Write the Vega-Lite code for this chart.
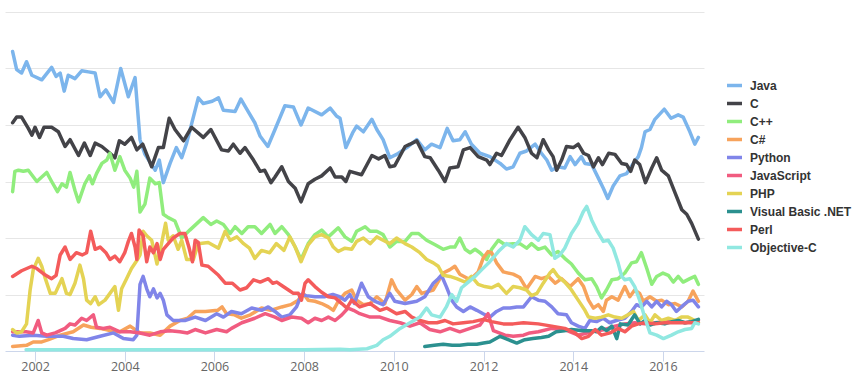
{
"$schema": "https://vega.github.io/schema/vega-lite/v6.json",
"width": 699, "height": 339,
"autosize": {"type": "none"},
"padding": {"left": 5, "top": 12, "right": 150, "bottom": 38},
"background": "#ffffff",
"config": {"view": {"stroke": null}},
"data": {"values": [
{"lang":"Java","year":2001.50,"share":26.5},{"lang":"Java","year":2001.59,"share":24.9},{"lang":"Java","year":2001.70,"share":24.6},{"lang":"Java","year":2001.81,"share":25.6},{"lang":"Java","year":2001.93,"share":24.4},{"lang":"Java","year":2002.15,"share":24.0},{"lang":"Java","year":2002.37,"share":25.1},{"lang":"Java","year":2002.47,"share":24.3},{"lang":"Java","year":2002.56,"share":24.6},{"lang":"Java","year":2002.65,"share":23.0},{"lang":"Java","year":2002.74,"share":24.4},{"lang":"Java","year":2002.89,"share":24.1},{"lang":"Java","year":2003.04,"share":24.8},{"lang":"Java","year":2003.19,"share":24.7},{"lang":"Java","year":2003.34,"share":24.6},{"lang":"Java","year":2003.45,"share":22.5},{"lang":"Java","year":2003.58,"share":23.1},{"lang":"Java","year":2003.75,"share":22.0},{"lang":"Java","year":2003.91,"share":25.0},{"lang":"Java","year":2004.08,"share":22.5},{"lang":"Java","year":2004.23,"share":24.2},{"lang":"Java","year":2004.34,"share":18.7},{"lang":"Java","year":2004.45,"share":17.4},{"lang":"Java","year":2004.68,"share":16.0},{"lang":"Java","year":2004.77,"share":16.9},{"lang":"Java","year":2004.86,"share":14.9},{"lang":"Java","year":2005.01,"share":16.6},{"lang":"Java","year":2005.15,"share":18.0},{"lang":"Java","year":2005.27,"share":17.1},{"lang":"Java","year":2005.38,"share":18.4},{"lang":"Java","year":2005.64,"share":22.4},{"lang":"Java","year":2005.75,"share":21.9},{"lang":"Java","year":2005.95,"share":22.1},{"lang":"Java","year":2006.09,"share":22.4},{"lang":"Java","year":2006.20,"share":21.3},{"lang":"Java","year":2006.46,"share":21.2},{"lang":"Java","year":2006.59,"share":22.3},{"lang":"Java","year":2006.72,"share":21.4},{"lang":"Java","year":2006.90,"share":20.2},{"lang":"Java","year":2007.02,"share":19.0},{"lang":"Java","year":2007.19,"share":18.1},{"lang":"Java","year":2007.35,"share":19.6},{"lang":"Java","year":2007.57,"share":21.7},{"lang":"Java","year":2007.76,"share":21.6},{"lang":"Java","year":2007.93,"share":20.0},{"lang":"Java","year":2008.09,"share":21.5},{"lang":"Java","year":2008.39,"share":20.9},{"lang":"Java","year":2008.58,"share":21.5},{"lang":"Java","year":2008.72,"share":20.8},{"lang":"Java","year":2008.80,"share":20.6},{"lang":"Java","year":2008.93,"share":18.0},{"lang":"Java","year":2009.08,"share":19.3},{"lang":"Java","year":2009.17,"share":19.9},{"lang":"Java","year":2009.32,"share":19.4},{"lang":"Java","year":2009.51,"share":20.5},{"lang":"Java","year":2009.62,"share":19.6},{"lang":"Java","year":2009.76,"share":18.7},{"lang":"Java","year":2009.91,"share":17.1},{"lang":"Java","year":2010.06,"share":17.4},{"lang":"Java","year":2010.29,"share":18.0},{"lang":"Java","year":2010.51,"share":18.7},{"lang":"Java","year":2010.69,"share":17.8},{"lang":"Java","year":2010.84,"share":18.3},{"lang":"Java","year":2011.03,"share":18.0},{"lang":"Java","year":2011.19,"share":19.7},{"lang":"Java","year":2011.32,"share":18.6},{"lang":"Java","year":2011.47,"share":18.7},{"lang":"Java","year":2011.59,"share":19.4},{"lang":"Java","year":2011.73,"share":18.3},{"lang":"Java","year":2011.92,"share":17.5},{"lang":"Java","year":2012.14,"share":17.2},{"lang":"Java","year":2012.37,"share":16.6},{"lang":"Java","year":2012.51,"share":16.1},{"lang":"Java","year":2012.66,"share":16.3},{"lang":"Java","year":2012.81,"share":17.5},{"lang":"Java","year":2012.96,"share":17.7},{"lang":"Java","year":2013.15,"share":18.3},{"lang":"Java","year":2013.29,"share":17.5},{"lang":"Java","year":2013.41,"share":16.9},{"lang":"Java","year":2013.52,"share":16.0},{"lang":"Java","year":2013.66,"share":16.3},{"lang":"Java","year":2013.81,"share":16.2},{"lang":"Java","year":2013.93,"share":17.2},{"lang":"Java","year":2014.04,"share":16.5},{"lang":"Java","year":2014.18,"share":17.2},{"lang":"Java","year":2014.26,"share":16.6},{"lang":"Java","year":2014.41,"share":16.5},{"lang":"Java","year":2014.56,"share":15.3},{"lang":"Java","year":2014.67,"share":14.4},{"lang":"Java","year":2014.77,"share":13.5},{"lang":"Java","year":2014.89,"share":14.6},{"lang":"Java","year":2015.04,"share":15.5},{"lang":"Java","year":2015.19,"share":15.7},{"lang":"Java","year":2015.34,"share":16.6},{"lang":"Java","year":2015.45,"share":17.2},{"lang":"Java","year":2015.52,"share":18.0},{"lang":"Java","year":2015.60,"share":19.4},{"lang":"Java","year":2015.71,"share":19.6},{"lang":"Java","year":2015.82,"share":20.5},{"lang":"Java","year":2016.03,"share":21.4},{"lang":"Java","year":2016.18,"share":20.6},{"lang":"Java","year":2016.34,"share":20.9},{"lang":"Java","year":2016.45,"share":20.7},{"lang":"Java","year":2016.60,"share":19.4},{"lang":"Java","year":2016.71,"share":18.3},{"lang":"Java","year":2016.79,"share":18.9},
{"lang":"C","year":2001.50,"share":20.2},{"lang":"C","year":2001.59,"share":20.7},{"lang":"C","year":2001.70,"share":20.7},{"lang":"C","year":2001.85,"share":19.7},{"lang":"C","year":2001.93,"share":19.1},{"lang":"C","year":2002.00,"share":19.8},{"lang":"C","year":2002.10,"share":18.9},{"lang":"C","year":2002.20,"share":19.8},{"lang":"C","year":2002.37,"share":19.8},{"lang":"C","year":2002.52,"share":19.4},{"lang":"C","year":2002.67,"share":18.1},{"lang":"C","year":2002.78,"share":18.7},{"lang":"C","year":2002.97,"share":17.3},{"lang":"C","year":2003.10,"share":18.4},{"lang":"C","year":2003.23,"share":17.3},{"lang":"C","year":2003.34,"share":18.4},{"lang":"C","year":2003.49,"share":18.1},{"lang":"C","year":2003.67,"share":17.5},{"lang":"C","year":2003.78,"share":17.1},{"lang":"C","year":2003.88,"share":18.6},{"lang":"C","year":2004.00,"share":18.3},{"lang":"C","year":2004.15,"share":18.9},{"lang":"C","year":2004.27,"share":17.8},{"lang":"C","year":2004.40,"share":18.3},{"lang":"C","year":2004.60,"share":16.3},{"lang":"C","year":2004.75,"share":18.0},{"lang":"C","year":2004.86,"share":18.0},{"lang":"C","year":2004.99,"share":20.6},{"lang":"C","year":2005.12,"share":19.6},{"lang":"C","year":2005.31,"share":18.6},{"lang":"C","year":2005.49,"share":19.8},{"lang":"C","year":2005.75,"share":18.9},{"lang":"C","year":2005.92,"share":19.6},{"lang":"C","year":2006.16,"share":17.8},{"lang":"C","year":2006.31,"share":17.7},{"lang":"C","year":2006.42,"share":18.3},{"lang":"C","year":2006.57,"share":17.5},{"lang":"C","year":2006.68,"share":18.0},{"lang":"C","year":2006.87,"share":16.9},{"lang":"C","year":2007.02,"share":15.9},{"lang":"C","year":2007.12,"share":16.0},{"lang":"C","year":2007.26,"share":14.9},{"lang":"C","year":2007.35,"share":15.4},{"lang":"C","year":2007.50,"share":16.3},{"lang":"C","year":2007.65,"share":15.0},{"lang":"C","year":2007.80,"share":14.4},{"lang":"C","year":2007.93,"share":13.2},{"lang":"C","year":2008.09,"share":14.8},{"lang":"C","year":2008.24,"share":15.2},{"lang":"C","year":2008.39,"share":15.5},{"lang":"C","year":2008.58,"share":16.2},{"lang":"C","year":2008.69,"share":15.4},{"lang":"C","year":2008.84,"share":15.4},{"lang":"C","year":2008.93,"share":15.0},{"lang":"C","year":2009.02,"share":15.9},{"lang":"C","year":2009.28,"share":15.6},{"lang":"C","year":2009.51,"share":17.3},{"lang":"C","year":2009.66,"share":17.0},{"lang":"C","year":2009.80,"share":17.3},{"lang":"C","year":2009.91,"share":16.3},{"lang":"C","year":2010.02,"share":16.4},{"lang":"C","year":2010.25,"share":18.1},{"lang":"C","year":2010.36,"share":18.3},{"lang":"C","year":2010.51,"share":18.6},{"lang":"C","year":2010.69,"share":17.2},{"lang":"C","year":2010.81,"share":17.1},{"lang":"C","year":2010.99,"share":16.0},{"lang":"C","year":2011.14,"share":15.0},{"lang":"C","year":2011.25,"share":16.2},{"lang":"C","year":2011.43,"share":16.3},{"lang":"C","year":2011.55,"share":17.8},{"lang":"C","year":2011.70,"share":18.0},{"lang":"C","year":2011.88,"share":17.2},{"lang":"C","year":2012.07,"share":16.9},{"lang":"C","year":2012.14,"share":16.5},{"lang":"C","year":2012.29,"share":17.5},{"lang":"C","year":2012.40,"share":17.3},{"lang":"C","year":2012.59,"share":18.7},{"lang":"C","year":2012.77,"share":19.8},{"lang":"C","year":2012.92,"share":18.9},{"lang":"C","year":2013.07,"share":17.5},{"lang":"C","year":2013.19,"share":17.1},{"lang":"C","year":2013.33,"share":18.7},{"lang":"C","year":2013.45,"share":17.8},{"lang":"C","year":2013.55,"share":17.2},{"lang":"C","year":2013.63,"share":16.0},{"lang":"C","year":2013.74,"share":16.9},{"lang":"C","year":2013.85,"share":18.1},{"lang":"C","year":2014.00,"share":18.0},{"lang":"C","year":2014.11,"share":18.3},{"lang":"C","year":2014.23,"share":17.5},{"lang":"C","year":2014.34,"share":17.3},{"lang":"C","year":2014.45,"share":16.3},{"lang":"C","year":2014.56,"share":17.1},{"lang":"C","year":2014.65,"share":16.5},{"lang":"C","year":2014.79,"share":17.5},{"lang":"C","year":2014.93,"share":17.4},{"lang":"C","year":2015.08,"share":16.6},{"lang":"C","year":2015.19,"share":16.5},{"lang":"C","year":2015.28,"share":15.9},{"lang":"C","year":2015.37,"share":16.9},{"lang":"C","year":2015.48,"share":16.5},{"lang":"C","year":2015.61,"share":14.9},{"lang":"C","year":2015.75,"share":16.2},{"lang":"C","year":2015.86,"share":17.1},{"lang":"C","year":2015.97,"share":16.0},{"lang":"C","year":2016.12,"share":15.5},{"lang":"C","year":2016.27,"share":14.0},{"lang":"C","year":2016.42,"share":12.5},{"lang":"C","year":2016.53,"share":12.1},{"lang":"C","year":2016.64,"share":11.3},{"lang":"C","year":2016.79,"share":9.9},
{"lang":"C++","year":2001.50,"share":14.1},{"lang":"C++","year":2001.55,"share":15.9},{"lang":"C++","year":2001.63,"share":16.0},{"lang":"C++","year":2001.74,"share":15.9},{"lang":"C++","year":2001.85,"share":16.0},{"lang":"C++","year":2002.04,"share":15.0},{"lang":"C++","year":2002.26,"share":15.8},{"lang":"C++","year":2002.37,"share":15.0},{"lang":"C++","year":2002.50,"share":14.1},{"lang":"C++","year":2002.60,"share":14.8},{"lang":"C++","year":2002.70,"share":14.5},{"lang":"C++","year":2002.78,"share":15.8},{"lang":"C++","year":2002.89,"share":14.2},{"lang":"C++","year":2002.97,"share":13.2},{"lang":"C++","year":2003.11,"share":14.8},{"lang":"C++","year":2003.21,"share":15.5},{"lang":"C++","year":2003.28,"share":14.8},{"lang":"C++","year":2003.37,"share":15.7},{"lang":"C++","year":2003.49,"share":16.6},{"lang":"C++","year":2003.60,"share":16.9},{"lang":"C++","year":2003.67,"share":17.5},{"lang":"C++","year":2003.78,"share":16.0},{"lang":"C++","year":2003.89,"share":17.2},{"lang":"C++","year":2004.00,"share":16.0},{"lang":"C++","year":2004.12,"share":15.3},{"lang":"C++","year":2004.20,"share":14.5},{"lang":"C++","year":2004.27,"share":15.9},{"lang":"C++","year":2004.34,"share":12.3},{"lang":"C++","year":2004.45,"share":13.0},{"lang":"C++","year":2004.56,"share":15.3},{"lang":"C++","year":2004.68,"share":14.8},{"lang":"C++","year":2004.77,"share":14.9},{"lang":"C++","year":2004.86,"share":12.1},{"lang":"C++","year":2004.97,"share":11.8},{"lang":"C++","year":2005.12,"share":11.5},{"lang":"C++","year":2005.27,"share":10.0},{"lang":"C++","year":2005.45,"share":10.7},{"lang":"C++","year":2005.75,"share":11.8},{"lang":"C++","year":2005.92,"share":11.2},{"lang":"C++","year":2006.05,"share":11.5},{"lang":"C++","year":2006.20,"share":11.2},{"lang":"C++","year":2006.35,"share":10.4},{"lang":"C++","year":2006.46,"share":11.0},{"lang":"C++","year":2006.61,"share":10.4},{"lang":"C++","year":2006.75,"share":11.0},{"lang":"C++","year":2006.90,"share":11.0},{"lang":"C++","year":2007.05,"share":10.4},{"lang":"C++","year":2007.24,"share":11.2},{"lang":"C++","year":2007.35,"share":10.4},{"lang":"C++","year":2007.50,"share":11.0},{"lang":"C++","year":2007.65,"share":10.3},{"lang":"C++","year":2007.80,"share":9.2},{"lang":"C++","year":2007.93,"share":8.1},{"lang":"C++","year":2008.09,"share":9.5},{"lang":"C++","year":2008.24,"share":10.3},{"lang":"C++","year":2008.39,"share":10.7},{"lang":"C++","year":2008.54,"share":10.1},{"lang":"C++","year":2008.76,"share":10.9},{"lang":"C++","year":2008.91,"share":10.1},{"lang":"C++","year":2009.06,"share":9.7},{"lang":"C++","year":2009.17,"share":10.6},{"lang":"C++","year":2009.36,"share":11.0},{"lang":"C++","year":2009.47,"share":10.6},{"lang":"C++","year":2009.62,"share":10.6},{"lang":"C++","year":2009.76,"share":10.3},{"lang":"C++","year":2009.91,"share":9.2},{"lang":"C++","year":2010.06,"share":9.7},{"lang":"C++","year":2010.25,"share":9.7},{"lang":"C++","year":2010.40,"share":10.4},{"lang":"C++","year":2010.55,"share":10.4},{"lang":"C++","year":2010.73,"share":9.8},{"lang":"C++","year":2010.92,"share":9.4},{"lang":"C++","year":2011.10,"share":9.0},{"lang":"C++","year":2011.25,"share":9.2},{"lang":"C++","year":2011.36,"share":9.2},{"lang":"C++","year":2011.47,"share":10.0},{"lang":"C++","year":2011.59,"share":9.0},{"lang":"C++","year":2011.70,"share":8.7},{"lang":"C++","year":2011.81,"share":9.0},{"lang":"C++","year":2011.92,"share":8.7},{"lang":"C++","year":2012.07,"share":8.1},{"lang":"C++","year":2012.18,"share":9.0},{"lang":"C++","year":2012.33,"share":9.8},{"lang":"C++","year":2012.48,"share":9.4},{"lang":"C++","year":2012.66,"share":9.5},{"lang":"C++","year":2012.81,"share":9.5},{"lang":"C++","year":2012.96,"share":9.1},{"lang":"C++","year":2013.07,"share":9.5},{"lang":"C++","year":2013.22,"share":9.0},{"lang":"C++","year":2013.37,"share":9.2},{"lang":"C++","year":2013.52,"share":8.5},{"lang":"C++","year":2013.66,"share":8.8},{"lang":"C++","year":2013.81,"share":8.2},{"lang":"C++","year":2013.96,"share":7.7},{"lang":"C++","year":2014.11,"share":6.9},{"lang":"C++","year":2014.26,"share":6.3},{"lang":"C++","year":2014.41,"share":6.4},{"lang":"C++","year":2014.52,"share":5.7},{"lang":"C++","year":2014.63,"share":4.7},{"lang":"C++","year":2014.74,"share":5.4},{"lang":"C++","year":2014.86,"share":6.3},{"lang":"C++","year":2015.00,"share":6.4},{"lang":"C++","year":2015.15,"share":6.9},{"lang":"C++","year":2015.30,"share":7.8},{"lang":"C++","year":2015.41,"share":7.9},{"lang":"C++","year":2015.52,"share":8.7},{"lang":"C++","year":2015.64,"share":7.3},{"lang":"C++","year":2015.75,"share":5.9},{"lang":"C++","year":2015.86,"share":6.6},{"lang":"C++","year":2016.00,"share":6.9},{"lang":"C++","year":2016.12,"share":6.7},{"lang":"C++","year":2016.23,"share":6.1},{"lang":"C++","year":2016.34,"share":6.6},{"lang":"C++","year":2016.45,"share":6.1},{"lang":"C++","year":2016.60,"share":6.4},{"lang":"C++","year":2016.71,"share":6.6},{"lang":"C++","year":2016.79,"share":5.9},
{"lang":"C#","year":2001.50,"share":0.4},{"lang":"C#","year":2001.81,"share":0.5},{"lang":"C#","year":2001.96,"share":0.8},{"lang":"C#","year":2002.15,"share":0.8},{"lang":"C#","year":2002.30,"share":1.0},{"lang":"C#","year":2002.56,"share":1.4},{"lang":"C#","year":2002.85,"share":1.7},{"lang":"C#","year":2003.08,"share":2.3},{"lang":"C#","year":2003.25,"share":2.1},{"lang":"C#","year":2003.45,"share":2.0},{"lang":"C#","year":2003.67,"share":1.8},{"lang":"C#","year":2003.89,"share":1.7},{"lang":"C#","year":2004.12,"share":2.2},{"lang":"C#","year":2004.34,"share":1.6},{"lang":"C#","year":2004.56,"share":1.6},{"lang":"C#","year":2004.79,"share":1.4},{"lang":"C#","year":2005.01,"share":2.2},{"lang":"C#","year":2005.23,"share":2.7},{"lang":"C#","year":2005.40,"share":2.9},{"lang":"C#","year":2005.57,"share":3.5},{"lang":"C#","year":2005.80,"share":3.5},{"lang":"C#","year":2006.07,"share":3.6},{"lang":"C#","year":2006.17,"share":3.9},{"lang":"C#","year":2006.27,"share":3.3},{"lang":"C#","year":2006.45,"share":3.2},{"lang":"C#","year":2006.60,"share":2.9},{"lang":"C#","year":2006.80,"share":3.2},{"lang":"C#","year":2007.05,"share":3.8},{"lang":"C#","year":2007.25,"share":3.6},{"lang":"C#","year":2007.50,"share":3.9},{"lang":"C#","year":2007.70,"share":4.1},{"lang":"C#","year":2007.87,"share":4.5},{"lang":"C#","year":2007.98,"share":5.1},{"lang":"C#","year":2008.09,"share":4.5},{"lang":"C#","year":2008.24,"share":4.4},{"lang":"C#","year":2008.39,"share":4.2},{"lang":"C#","year":2008.54,"share":3.9},{"lang":"C#","year":2008.65,"share":3.6},{"lang":"C#","year":2008.76,"share":4.4},{"lang":"C#","year":2008.91,"share":5.1},{"lang":"C#","year":2009.06,"share":5.4},{"lang":"C#","year":2009.17,"share":4.5},{"lang":"C#","year":2009.32,"share":4.1},{"lang":"C#","year":2009.47,"share":4.2},{"lang":"C#","year":2009.62,"share":4.8},{"lang":"C#","year":2009.80,"share":4.2},{"lang":"C#","year":2009.95,"share":6.3},{"lang":"C#","year":2010.06,"share":5.4},{"lang":"C#","year":2010.25,"share":4.5},{"lang":"C#","year":2010.40,"share":5.0},{"lang":"C#","year":2010.51,"share":5.7},{"lang":"C#","year":2010.62,"share":5.1},{"lang":"C#","year":2010.88,"share":5.4},{"lang":"C#","year":2011.10,"share":6.9},{"lang":"C#","year":2011.25,"share":7.2},{"lang":"C#","year":2011.36,"share":7.5},{"lang":"C#","year":2011.47,"share":6.8},{"lang":"C#","year":2011.70,"share":6.3},{"lang":"C#","year":2011.88,"share":7.0},{"lang":"C#","year":2011.99,"share":8.2},{"lang":"C#","year":2012.10,"share":8.8},{"lang":"C#","year":2012.18,"share":8.7},{"lang":"C#","year":2012.29,"share":7.8},{"lang":"C#","year":2012.44,"share":7.0},{"lang":"C#","year":2012.66,"share":6.8},{"lang":"C#","year":2012.81,"share":6.5},{"lang":"C#","year":2012.96,"share":5.5},{"lang":"C#","year":2013.15,"share":6.6},{"lang":"C#","year":2013.29,"share":6.4},{"lang":"C#","year":2013.45,"share":6.6},{"lang":"C#","year":2013.60,"share":6.0},{"lang":"C#","year":2013.74,"share":6.4},{"lang":"C#","year":2013.93,"share":5.7},{"lang":"C#","year":2014.11,"share":6.4},{"lang":"C#","year":2014.23,"share":5.7},{"lang":"C#","year":2014.34,"share":4.5},{"lang":"C#","year":2014.45,"share":3.8},{"lang":"C#","year":2014.56,"share":4.1},{"lang":"C#","year":2014.67,"share":3.5},{"lang":"C#","year":2014.74,"share":4.5},{"lang":"C#","year":2014.86,"share":4.8},{"lang":"C#","year":2015.00,"share":4.5},{"lang":"C#","year":2015.15,"share":5.7},{"lang":"C#","year":2015.26,"share":4.8},{"lang":"C#","year":2015.37,"share":5.4},{"lang":"C#","year":2015.48,"share":5.1},{"lang":"C#","year":2015.56,"share":4.4},{"lang":"C#","year":2015.71,"share":4.8},{"lang":"C#","year":2015.86,"share":4.4},{"lang":"C#","year":2015.97,"share":4.5},{"lang":"C#","year":2016.12,"share":4.1},{"lang":"C#","year":2016.27,"share":4.2},{"lang":"C#","year":2016.42,"share":3.9},{"lang":"C#","year":2016.56,"share":4.4},{"lang":"C#","year":2016.67,"share":5.3},{"lang":"C#","year":2016.79,"share":4.4},
{"lang":"Python","year":2001.50,"share":1.4},{"lang":"Python","year":2001.65,"share":1.3},{"lang":"Python","year":2001.96,"share":1.4},{"lang":"Python","year":2002.26,"share":1.3},{"lang":"Python","year":2002.63,"share":1.3},{"lang":"Python","year":2002.85,"share":1.1},{"lang":"Python","year":2003.15,"share":1.0},{"lang":"Python","year":2003.45,"share":1.3},{"lang":"Python","year":2003.75,"share":1.6},{"lang":"Python","year":2003.97,"share":1.1},{"lang":"Python","year":2004.19,"share":1.0},{"lang":"Python","year":2004.27,"share":1.4},{"lang":"Python","year":2004.34,"share":5.9},{"lang":"Python","year":2004.41,"share":6.6},{"lang":"Python","year":2004.49,"share":5.5},{"lang":"Python","year":2004.56,"share":4.8},{"lang":"Python","year":2004.64,"share":5.5},{"lang":"Python","year":2004.72,"share":4.7},{"lang":"Python","year":2004.79,"share":5.1},{"lang":"Python","year":2004.86,"share":4.5},{"lang":"Python","year":2004.94,"share":3.2},{"lang":"Python","year":2005.08,"share":2.7},{"lang":"Python","year":2005.23,"share":2.7},{"lang":"Python","year":2005.34,"share":2.7},{"lang":"Python","year":2005.57,"share":3.0},{"lang":"Python","year":2005.80,"share":2.7},{"lang":"Python","year":2006.05,"share":3.3},{"lang":"Python","year":2006.20,"share":3.0},{"lang":"Python","year":2006.38,"share":3.5},{"lang":"Python","year":2006.60,"share":3.3},{"lang":"Python","year":2006.83,"share":3.8},{"lang":"Python","year":2007.05,"share":3.6},{"lang":"Python","year":2007.20,"share":3.9},{"lang":"Python","year":2007.35,"share":3.5},{"lang":"Python","year":2007.50,"share":3.0},{"lang":"Python","year":2007.68,"share":3.2},{"lang":"Python","year":2007.83,"share":3.9},{"lang":"Python","year":2007.94,"share":5.0},{"lang":"Python","year":2008.05,"share":4.9},{"lang":"Python","year":2008.24,"share":4.8},{"lang":"Python","year":2008.45,"share":4.8},{"lang":"Python","year":2008.64,"share":5.0},{"lang":"Python","year":2008.79,"share":4.8},{"lang":"Python","year":2008.91,"share":4.5},{"lang":"Python","year":2009.02,"share":5.0},{"lang":"Python","year":2009.12,"share":4.2},{"lang":"Python","year":2009.28,"share":6.0},{"lang":"Python","year":2009.43,"share":4.8},{"lang":"Python","year":2009.58,"share":4.4},{"lang":"Python","year":2009.76,"share":4.1},{"lang":"Python","year":2009.91,"share":5.1},{"lang":"Python","year":2010.02,"share":4.4},{"lang":"Python","year":2010.25,"share":4.2},{"lang":"Python","year":2010.51,"share":4.4},{"lang":"Python","year":2010.69,"share":4.8},{"lang":"Python","year":2010.88,"share":6.0},{"lang":"Python","year":2010.99,"share":6.4},{"lang":"Python","year":2011.06,"share":6.7},{"lang":"Python","year":2011.17,"share":5.7},{"lang":"Python","year":2011.29,"share":4.5},{"lang":"Python","year":2011.40,"share":3.9},{"lang":"Python","year":2011.55,"share":3.5},{"lang":"Python","year":2011.70,"share":3.9},{"lang":"Python","year":2011.85,"share":3.6},{"lang":"Python","year":2011.99,"share":3.3},{"lang":"Python","year":2012.14,"share":3.0},{"lang":"Python","year":2012.29,"share":3.5},{"lang":"Python","year":2012.44,"share":3.8},{"lang":"Python","year":2012.59,"share":3.8},{"lang":"Python","year":2012.74,"share":3.9},{"lang":"Python","year":2012.89,"share":3.9},{"lang":"Python","year":2013.07,"share":4.8},{"lang":"Python","year":2013.22,"share":4.5},{"lang":"Python","year":2013.37,"share":4.4},{"lang":"Python","year":2013.52,"share":3.9},{"lang":"Python","year":2013.66,"share":3.3},{"lang":"Python","year":2013.85,"share":3.2},{"lang":"Python","year":2013.96,"share":2.5},{"lang":"Python","year":2014.11,"share":2.2},{"lang":"Python","year":2014.26,"share":2.0},{"lang":"Python","year":2014.37,"share":2.7},{"lang":"Python","year":2014.52,"share":2.6},{"lang":"Python","year":2014.67,"share":2.9},{"lang":"Python","year":2014.81,"share":2.5},{"lang":"Python","year":2014.96,"share":2.7},{"lang":"Python","year":2015.15,"share":2.9},{"lang":"Python","year":2015.30,"share":3.5},{"lang":"Python","year":2015.41,"share":4.1},{"lang":"Python","year":2015.52,"share":3.9},{"lang":"Python","year":2015.64,"share":4.4},{"lang":"Python","year":2015.75,"share":3.9},{"lang":"Python","year":2015.86,"share":4.4},{"lang":"Python","year":2015.97,"share":3.9},{"lang":"Python","year":2016.08,"share":4.4},{"lang":"Python","year":2016.19,"share":4.1},{"lang":"Python","year":2016.30,"share":3.5},{"lang":"Python","year":2016.41,"share":3.9},{"lang":"Python","year":2016.56,"share":4.4},{"lang":"Python","year":2016.67,"share":4.5},{"lang":"Python","year":2016.79,"share":3.9},
{"lang":"JavaScript","year":2001.50,"share":1.7},{"lang":"JavaScript","year":2001.80,"share":1.7},{"lang":"JavaScript","year":2001.96,"share":1.6},{"lang":"JavaScript","year":2002.07,"share":2.7},{"lang":"JavaScript","year":2002.15,"share":1.6},{"lang":"JavaScript","year":2002.26,"share":1.4},{"lang":"JavaScript","year":2002.45,"share":1.6},{"lang":"JavaScript","year":2002.67,"share":2.0},{"lang":"JavaScript","year":2002.78,"share":2.4},{"lang":"JavaScript","year":2002.89,"share":2.3},{"lang":"JavaScript","year":2003.04,"share":2.9},{"lang":"JavaScript","year":2003.15,"share":2.7},{"lang":"JavaScript","year":2003.30,"share":3.2},{"lang":"JavaScript","year":2003.37,"share":2.1},{"lang":"JavaScript","year":2003.52,"share":2.0},{"lang":"JavaScript","year":2003.67,"share":2.1},{"lang":"JavaScript","year":2003.89,"share":1.7},{"lang":"JavaScript","year":2004.12,"share":1.7},{"lang":"JavaScript","year":2004.34,"share":1.6},{"lang":"JavaScript","year":2004.56,"share":1.4},{"lang":"JavaScript","year":2004.79,"share":1.7},{"lang":"JavaScript","year":2005.01,"share":1.8},{"lang":"JavaScript","year":2005.23,"share":1.7},{"lang":"JavaScript","year":2005.40,"share":1.6},{"lang":"JavaScript","year":2005.57,"share":1.9},{"lang":"JavaScript","year":2005.80,"share":1.6},{"lang":"JavaScript","year":2006.05,"share":1.9},{"lang":"JavaScript","year":2006.27,"share":1.7},{"lang":"JavaScript","year":2006.38,"share":2.0},{"lang":"JavaScript","year":2006.61,"share":2.5},{"lang":"JavaScript","year":2006.90,"share":2.9},{"lang":"JavaScript","year":2007.13,"share":3.3},{"lang":"JavaScript","year":2007.35,"share":3.0},{"lang":"JavaScript","year":2007.50,"share":2.7},{"lang":"JavaScript","year":2007.72,"share":3.0},{"lang":"JavaScript","year":2007.94,"share":2.9},{"lang":"JavaScript","year":2008.09,"share":2.5},{"lang":"JavaScript","year":2008.24,"share":2.9},{"lang":"JavaScript","year":2008.39,"share":2.7},{"lang":"JavaScript","year":2008.54,"share":3.0},{"lang":"JavaScript","year":2008.69,"share":2.7},{"lang":"JavaScript","year":2008.84,"share":3.2},{"lang":"JavaScript","year":2008.98,"share":3.8},{"lang":"JavaScript","year":2009.10,"share":3.6},{"lang":"JavaScript","year":2009.24,"share":3.3},{"lang":"JavaScript","year":2009.47,"share":3.0},{"lang":"JavaScript","year":2009.69,"share":3.0},{"lang":"JavaScript","year":2009.91,"share":2.7},{"lang":"JavaScript","year":2010.14,"share":2.5},{"lang":"JavaScript","year":2010.36,"share":2.2},{"lang":"JavaScript","year":2010.58,"share":2.5},{"lang":"JavaScript","year":2010.80,"share":1.9},{"lang":"JavaScript","year":2011.03,"share":1.7},{"lang":"JavaScript","year":2011.25,"share":2.0},{"lang":"JavaScript","year":2011.47,"share":1.7},{"lang":"JavaScript","year":2011.70,"share":2.0},{"lang":"JavaScript","year":2011.92,"share":2.3},{"lang":"JavaScript","year":2012.10,"share":3.3},{"lang":"JavaScript","year":2012.22,"share":1.8},{"lang":"JavaScript","year":2012.48,"share":1.4},{"lang":"JavaScript","year":2012.66,"share":1.3},{"lang":"JavaScript","year":2012.89,"share":1.4},{"lang":"JavaScript","year":2013.03,"share":1.6},{"lang":"JavaScript","year":2013.22,"share":1.7},{"lang":"JavaScript","year":2013.52,"share":2.0},{"lang":"JavaScript","year":2013.81,"share":1.9},{"lang":"JavaScript","year":2014.11,"share":1.4},{"lang":"JavaScript","year":2014.41,"share":1.7},{"lang":"JavaScript","year":2014.71,"share":1.9},{"lang":"JavaScript","year":2014.93,"share":2.2},{"lang":"JavaScript","year":2015.15,"share":2.4},{"lang":"JavaScript","year":2015.37,"share":2.5},{"lang":"JavaScript","year":2015.60,"share":2.4},{"lang":"JavaScript","year":2015.82,"share":2.5},{"lang":"JavaScript","year":2016.04,"share":2.6},{"lang":"JavaScript","year":2016.27,"share":2.7},{"lang":"JavaScript","year":2016.49,"share":2.5},{"lang":"JavaScript","year":2016.79,"share":2.7},
{"lang":"PHP","year":2001.50,"share":1.9},{"lang":"PHP","year":2001.59,"share":1.6},{"lang":"PHP","year":2001.70,"share":1.7},{"lang":"PHP","year":2001.81,"share":2.4},{"lang":"PHP","year":2001.89,"share":5.4},{"lang":"PHP","year":2001.96,"share":7.2},{"lang":"PHP","year":2002.07,"share":8.2},{"lang":"PHP","year":2002.15,"share":7.5},{"lang":"PHP","year":2002.23,"share":6.4},{"lang":"PHP","year":2002.34,"share":5.1},{"lang":"PHP","year":2002.45,"share":5.1},{"lang":"PHP","year":2002.52,"share":5.7},{"lang":"PHP","year":2002.60,"share":6.4},{"lang":"PHP","year":2002.70,"share":5.1},{"lang":"PHP","year":2002.78,"share":5.0},{"lang":"PHP","year":2002.89,"share":6.0},{"lang":"PHP","year":2003.00,"share":7.6},{"lang":"PHP","year":2003.08,"share":6.4},{"lang":"PHP","year":2003.15,"share":4.5},{"lang":"PHP","year":2003.24,"share":4.2},{"lang":"PHP","year":2003.34,"share":4.8},{"lang":"PHP","year":2003.42,"share":4.1},{"lang":"PHP","year":2003.56,"share":4.5},{"lang":"PHP","year":2003.67,"share":5.1},{"lang":"PHP","year":2003.78,"share":5.7},{"lang":"PHP","year":2003.86,"share":3.6},{"lang":"PHP","year":2003.93,"share":5.5},{"lang":"PHP","year":2004.04,"share":6.4},{"lang":"PHP","year":2004.15,"share":7.3},{"lang":"PHP","year":2004.27,"share":8.0},{"lang":"PHP","year":2004.34,"share":8.5},{"lang":"PHP","year":2004.41,"share":10.6},{"lang":"PHP","year":2004.49,"share":10.2},{"lang":"PHP","year":2004.60,"share":9.8},{"lang":"PHP","year":2004.68,"share":8.4},{"lang":"PHP","year":2004.72,"share":7.7},{"lang":"PHP","year":2004.82,"share":9.5},{"lang":"PHP","year":2004.91,"share":11.3},{"lang":"PHP","year":2004.97,"share":9.8},{"lang":"PHP","year":2005.08,"share":10.2},{"lang":"PHP","year":2005.19,"share":9.0},{"lang":"PHP","year":2005.27,"share":9.8},{"lang":"PHP","year":2005.38,"share":8.1},{"lang":"PHP","year":2005.53,"share":8.1},{"lang":"PHP","year":2005.64,"share":9.5},{"lang":"PHP","year":2005.86,"share":9.6},{"lang":"PHP","year":2006.09,"share":9.1},{"lang":"PHP","year":2006.24,"share":10.6},{"lang":"PHP","year":2006.35,"share":9.8},{"lang":"PHP","year":2006.50,"share":10.1},{"lang":"PHP","year":2006.65,"share":9.5},{"lang":"PHP","year":2006.78,"share":9.1},{"lang":"PHP","year":2006.90,"share":8.2},{"lang":"PHP","year":2007.05,"share":8.9},{"lang":"PHP","year":2007.23,"share":8.7},{"lang":"PHP","year":2007.38,"share":9.5},{"lang":"PHP","year":2007.55,"share":8.9},{"lang":"PHP","year":2007.68,"share":10.1},{"lang":"PHP","year":2007.80,"share":9.2},{"lang":"PHP","year":2007.93,"share":7.9},{"lang":"PHP","year":2008.09,"share":9.4},{"lang":"PHP","year":2008.24,"share":10.1},{"lang":"PHP","year":2008.39,"share":10.3},{"lang":"PHP","year":2008.54,"share":10.0},{"lang":"PHP","year":2008.65,"share":9.2},{"lang":"PHP","year":2008.76,"share":8.8},{"lang":"PHP","year":2008.91,"share":9.1},{"lang":"PHP","year":2009.06,"share":9.0},{"lang":"PHP","year":2009.17,"share":9.7},{"lang":"PHP","year":2009.32,"share":10.0},{"lang":"PHP","year":2009.47,"share":9.5},{"lang":"PHP","year":2009.62,"share":10.1},{"lang":"PHP","year":2009.76,"share":9.8},{"lang":"PHP","year":2009.91,"share":9.5},{"lang":"PHP","year":2010.06,"share":10.0},{"lang":"PHP","year":2010.25,"share":9.5},{"lang":"PHP","year":2010.40,"share":9.2},{"lang":"PHP","year":2010.58,"share":8.7},{"lang":"PHP","year":2010.73,"share":8.1},{"lang":"PHP","year":2010.88,"share":7.8},{"lang":"PHP","year":2010.99,"share":7.5},{"lang":"PHP","year":2011.10,"share":6.7},{"lang":"PHP","year":2011.25,"share":6.6},{"lang":"PHP","year":2011.40,"share":6.4},{"lang":"PHP","year":2011.59,"share":6.1},{"lang":"PHP","year":2011.73,"share":6.6},{"lang":"PHP","year":2011.88,"share":5.9},{"lang":"PHP","year":2012.03,"share":5.7},{"lang":"PHP","year":2012.18,"share":5.6},{"lang":"PHP","year":2012.33,"share":5.9},{"lang":"PHP","year":2012.51,"share":5.1},{"lang":"PHP","year":2012.66,"share":5.7},{"lang":"PHP","year":2012.81,"share":5.6},{"lang":"PHP","year":2012.96,"share":5.4},{"lang":"PHP","year":2013.07,"share":4.9},{"lang":"PHP","year":2013.19,"share":5.1},{"lang":"PHP","year":2013.33,"share":6.0},{"lang":"PHP","year":2013.48,"share":6.9},{"lang":"PHP","year":2013.55,"share":7.2},{"lang":"PHP","year":2013.66,"share":6.6},{"lang":"PHP","year":2013.81,"share":6.1},{"lang":"PHP","year":2013.96,"share":5.4},{"lang":"PHP","year":2014.11,"share":4.5},{"lang":"PHP","year":2014.26,"share":3.6},{"lang":"PHP","year":2014.34,"share":3.0},{"lang":"PHP","year":2014.49,"share":2.9},{"lang":"PHP","year":2014.63,"share":3.0},{"lang":"PHP","year":2014.78,"share":3.2},{"lang":"PHP","year":2014.93,"share":3.0},{"lang":"PHP","year":2015.08,"share":2.9},{"lang":"PHP","year":2015.22,"share":3.2},{"lang":"PHP","year":2015.34,"share":3.5},{"lang":"PHP","year":2015.45,"share":2.7},{"lang":"PHP","year":2015.60,"share":3.2},{"lang":"PHP","year":2015.71,"share":2.5},{"lang":"PHP","year":2015.82,"share":3.2},{"lang":"PHP","year":2015.97,"share":2.7},{"lang":"PHP","year":2016.12,"share":2.9},{"lang":"PHP","year":2016.27,"share":2.7},{"lang":"PHP","year":2016.41,"share":3.0},{"lang":"PHP","year":2016.56,"share":3.0},{"lang":"PHP","year":2016.71,"share":2.7},{"lang":"PHP","year":2016.79,"share":2.5},
{"lang":"Visual Basic .NET","year":2010.69,"share":0.4},{"lang":"Visual Basic .NET","year":2010.90,"share":0.5},{"lang":"Visual Basic .NET","year":2011.10,"share":0.6},{"lang":"Visual Basic .NET","year":2011.30,"share":0.5},{"lang":"Visual Basic .NET","year":2011.47,"share":0.5},{"lang":"Visual Basic .NET","year":2011.65,"share":0.6},{"lang":"Visual Basic .NET","year":2011.85,"share":0.6},{"lang":"Visual Basic .NET","year":2012.00,"share":0.7},{"lang":"Visual Basic .NET","year":2012.14,"share":0.8},{"lang":"Visual Basic .NET","year":2012.37,"share":1.3},{"lang":"Visual Basic .NET","year":2012.55,"share":1.0},{"lang":"Visual Basic .NET","year":2012.74,"share":0.7},{"lang":"Visual Basic .NET","year":2012.92,"share":1.0},{"lang":"Visual Basic .NET","year":2013.10,"share":1.1},{"lang":"Visual Basic .NET","year":2013.29,"share":1.2},{"lang":"Visual Basic .NET","year":2013.45,"share":1.3},{"lang":"Visual Basic .NET","year":2013.62,"share":1.7},{"lang":"Visual Basic .NET","year":2013.80,"share":1.8},{"lang":"Visual Basic .NET","year":2013.96,"share":1.9},{"lang":"Visual Basic .NET","year":2014.22,"share":1.8},{"lang":"Visual Basic .NET","year":2014.40,"share":1.8},{"lang":"Visual Basic .NET","year":2014.52,"share":1.7},{"lang":"Visual Basic .NET","year":2014.63,"share":2.1},{"lang":"Visual Basic .NET","year":2014.75,"share":1.8},{"lang":"Visual Basic .NET","year":2014.86,"share":2.2},{"lang":"Visual Basic .NET","year":2014.97,"share":1.1},{"lang":"Visual Basic .NET","year":2015.05,"share":2.4},{"lang":"Visual Basic .NET","year":2015.22,"share":2.3},{"lang":"Visual Basic .NET","year":2015.37,"share":3.2},{"lang":"Visual Basic .NET","year":2015.49,"share":2.4},{"lang":"Visual Basic .NET","year":2015.60,"share":2.7},{"lang":"Visual Basic .NET","year":2015.71,"share":2.3},{"lang":"Visual Basic .NET","year":2015.86,"share":2.5},{"lang":"Visual Basic .NET","year":2016.04,"share":2.4},{"lang":"Visual Basic .NET","year":2016.20,"share":2.6},{"lang":"Visual Basic .NET","year":2016.34,"share":2.7},{"lang":"Visual Basic .NET","year":2016.49,"share":2.5},{"lang":"Visual Basic .NET","year":2016.64,"share":2.6},{"lang":"Visual Basic .NET","year":2016.79,"share":2.8},
{"lang":"Perl","year":2001.50,"share":6.6},{"lang":"Perl","year":2001.70,"share":7.1},{"lang":"Perl","year":2001.93,"share":7.5},{"lang":"Perl","year":2002.04,"share":7.3},{"lang":"Perl","year":2002.20,"share":6.8},{"lang":"Perl","year":2002.37,"share":6.4},{"lang":"Perl","year":2002.47,"share":6.7},{"lang":"Perl","year":2002.56,"share":8.5},{"lang":"Perl","year":2002.67,"share":9.2},{"lang":"Perl","year":2002.78,"share":8.1},{"lang":"Perl","year":2002.85,"share":8.4},{"lang":"Perl","year":2002.92,"share":8.7},{"lang":"Perl","year":2003.05,"share":8.5},{"lang":"Perl","year":2003.15,"share":8.7},{"lang":"Perl","year":2003.24,"share":10.6},{"lang":"Perl","year":2003.34,"share":9.0},{"lang":"Perl","year":2003.45,"share":9.2},{"lang":"Perl","year":2003.58,"share":8.7},{"lang":"Perl","year":2003.67,"share":8.1},{"lang":"Perl","year":2003.78,"share":8.4},{"lang":"Perl","year":2003.89,"share":7.9},{"lang":"Perl","year":2004.00,"share":8.7},{"lang":"Perl","year":2004.08,"share":9.7},{"lang":"Perl","year":2004.15,"share":10.4},{"lang":"Perl","year":2004.23,"share":9.2},{"lang":"Perl","year":2004.27,"share":8.1},{"lang":"Perl","year":2004.32,"share":10.7},{"lang":"Perl","year":2004.41,"share":10.2},{"lang":"Perl","year":2004.49,"share":7.9},{"lang":"Perl","year":2004.56,"share":9.2},{"lang":"Perl","year":2004.64,"share":8.7},{"lang":"Perl","year":2004.72,"share":9.5},{"lang":"Perl","year":2004.79,"share":8.1},{"lang":"Perl","year":2004.86,"share":9.0},{"lang":"Perl","year":2004.97,"share":9.5},{"lang":"Perl","year":2005.08,"share":10.0},{"lang":"Perl","year":2005.23,"share":10.4},{"lang":"Perl","year":2005.34,"share":10.4},{"lang":"Perl","year":2005.43,"share":9.2},{"lang":"Perl","year":2005.51,"share":7.9},{"lang":"Perl","year":2005.57,"share":9.8},{"lang":"Perl","year":2005.64,"share":9.6},{"lang":"Perl","year":2005.72,"share":7.6},{"lang":"Perl","year":2005.86,"share":7.5},{"lang":"Perl","year":2006.09,"share":6.7},{"lang":"Perl","year":2006.24,"share":6.0},{"lang":"Perl","year":2006.40,"share":6.0},{"lang":"Perl","year":2006.57,"share":5.4},{"lang":"Perl","year":2006.72,"share":5.6},{"lang":"Perl","year":2006.87,"share":6.3},{"lang":"Perl","year":2007.02,"share":6.1},{"lang":"Perl","year":2007.20,"share":6.4},{"lang":"Perl","year":2007.30,"share":6.0},{"lang":"Perl","year":2007.39,"share":6.1},{"lang":"Perl","year":2007.50,"share":5.8},{"lang":"Perl","year":2007.65,"share":5.4},{"lang":"Perl","year":2007.76,"share":5.1},{"lang":"Perl","year":2007.87,"share":5.1},{"lang":"Perl","year":2007.94,"share":4.5},{"lang":"Perl","year":2008.02,"share":6.0},{"lang":"Perl","year":2008.09,"share":6.3},{"lang":"Perl","year":2008.24,"share":5.7},{"lang":"Perl","year":2008.39,"share":5.2},{"lang":"Perl","year":2008.54,"share":4.8},{"lang":"Perl","year":2008.69,"share":4.7},{"lang":"Perl","year":2008.84,"share":4.2},{"lang":"Perl","year":2008.95,"share":3.8},{"lang":"Perl","year":2009.06,"share":4.5},{"lang":"Perl","year":2009.24,"share":3.9},{"lang":"Perl","year":2009.47,"share":4.2},{"lang":"Perl","year":2009.69,"share":3.6},{"lang":"Perl","year":2009.84,"share":3.8},{"lang":"Perl","year":2010.06,"share":3.3},{"lang":"Perl","year":2010.25,"share":3.5},{"lang":"Perl","year":2010.40,"share":3.0},{"lang":"Perl","year":2010.58,"share":2.7},{"lang":"Perl","year":2010.77,"share":2.5},{"lang":"Perl","year":2010.96,"share":2.5},{"lang":"Perl","year":2011.14,"share":2.7},{"lang":"Perl","year":2011.32,"share":2.4},{"lang":"Perl","year":2011.55,"share":2.5},{"lang":"Perl","year":2011.77,"share":2.6},{"lang":"Perl","year":2011.99,"share":2.8},{"lang":"Perl","year":2012.18,"share":2.6},{"lang":"Perl","year":2012.44,"share":2.4},{"lang":"Perl","year":2012.66,"share":2.4},{"lang":"Perl","year":2012.89,"share":2.5},{"lang":"Perl","year":2013.22,"share":2.4},{"lang":"Perl","year":2013.52,"share":2.2},{"lang":"Perl","year":2013.81,"share":2.0},{"lang":"Perl","year":2014.04,"share":1.6},{"lang":"Perl","year":2014.19,"share":1.1},{"lang":"Perl","year":2014.34,"share":1.3},{"lang":"Perl","year":2014.49,"share":1.9},{"lang":"Perl","year":2014.63,"share":1.4},{"lang":"Perl","year":2014.82,"share":1.6},{"lang":"Perl","year":2015.00,"share":2.0},{"lang":"Perl","year":2015.15,"share":1.7},{"lang":"Perl","year":2015.30,"share":2.2},{"lang":"Perl","year":2015.45,"share":2.4},{"lang":"Perl","year":2015.60,"share":2.5},{"lang":"Perl","year":2015.82,"share":2.4},{"lang":"Perl","year":2016.04,"share":2.5},{"lang":"Perl","year":2016.27,"share":2.5},{"lang":"Perl","year":2016.49,"share":2.5},{"lang":"Perl","year":2016.79,"share":2.5},
{"lang":"Objective-C","year":2001.80,"share":0.1},{"lang":"Objective-C","year":2003.00,"share":0.1},{"lang":"Objective-C","year":2004.00,"share":0.1},{"lang":"Objective-C","year":2005.00,"share":0.1},{"lang":"Objective-C","year":2006.00,"share":0.1},{"lang":"Objective-C","year":2007.00,"share":0.1},{"lang":"Objective-C","year":2008.00,"share":0.1},{"lang":"Objective-C","year":2008.80,"share":0.15},{"lang":"Objective-C","year":2009.02,"share":0.1},{"lang":"Objective-C","year":2009.40,"share":0.2},{"lang":"Objective-C","year":2009.62,"share":0.5},{"lang":"Objective-C","year":2009.76,"share":1.0},{"lang":"Objective-C","year":2009.91,"share":1.3},{"lang":"Objective-C","year":2010.14,"share":2.0},{"lang":"Objective-C","year":2010.36,"share":2.5},{"lang":"Objective-C","year":2010.58,"share":3.0},{"lang":"Objective-C","year":2010.73,"share":3.8},{"lang":"Objective-C","year":2010.84,"share":3.2},{"lang":"Objective-C","year":2011.03,"share":3.0},{"lang":"Objective-C","year":2011.17,"share":3.9},{"lang":"Objective-C","year":2011.29,"share":5.0},{"lang":"Objective-C","year":2011.40,"share":4.4},{"lang":"Objective-C","year":2011.51,"share":5.6},{"lang":"Objective-C","year":2011.66,"share":6.1},{"lang":"Objective-C","year":2011.81,"share":6.6},{"lang":"Objective-C","year":2011.96,"share":7.2},{"lang":"Objective-C","year":2012.14,"share":7.9},{"lang":"Objective-C","year":2012.33,"share":8.8},{"lang":"Objective-C","year":2012.51,"share":9.5},{"lang":"Objective-C","year":2012.66,"share":9.2},{"lang":"Objective-C","year":2012.81,"share":9.8},{"lang":"Objective-C","year":2012.92,"share":11.0},{"lang":"Objective-C","year":2013.07,"share":10.3},{"lang":"Objective-C","year":2013.22,"share":9.8},{"lang":"Objective-C","year":2013.33,"share":10.4},{"lang":"Objective-C","year":2013.48,"share":10.3},{"lang":"Objective-C","year":2013.59,"share":8.2},{"lang":"Objective-C","year":2013.70,"share":8.5},{"lang":"Objective-C","year":2013.81,"share":9.1},{"lang":"Objective-C","year":2013.96,"share":10.4},{"lang":"Objective-C","year":2014.11,"share":11.3},{"lang":"Objective-C","year":2014.22,"share":12.3},{"lang":"Objective-C","year":2014.30,"share":12.8},{"lang":"Objective-C","year":2014.41,"share":11.6},{"lang":"Objective-C","year":2014.52,"share":10.7},{"lang":"Objective-C","year":2014.67,"share":9.7},{"lang":"Objective-C","year":2014.78,"share":9.8},{"lang":"Objective-C","year":2014.89,"share":9.1},{"lang":"Objective-C","year":2015.00,"share":7.8},{"lang":"Objective-C","year":2015.08,"share":6.6},{"lang":"Objective-C","year":2015.15,"share":6.3},{"lang":"Objective-C","year":2015.26,"share":6.4},{"lang":"Objective-C","year":2015.37,"share":5.7},{"lang":"Objective-C","year":2015.48,"share":4.5},{"lang":"Objective-C","year":2015.60,"share":2.9},{"lang":"Objective-C","year":2015.71,"share":1.6},{"lang":"Objective-C","year":2015.86,"share":1.4},{"lang":"Objective-C","year":2016.01,"share":1.1},{"lang":"Objective-C","year":2016.19,"share":1.4},{"lang":"Objective-C","year":2016.34,"share":1.7},{"lang":"Objective-C","year":2016.49,"share":1.9},{"lang":"Objective-C","year":2016.64,"share":2.0},{"lang":"Objective-C","year":2016.71,"share":2.5},{"lang":"Objective-C","year":2016.79,"share":2.4}
]},
"mark": {"type": "line", "strokeWidth": 3.5, "strokeJoin": "round", "strokeCap": "round"},
"encoding": {
  "x": {"field": "year", "type": "quantitative",
        "scale": {"domain": [2001.33, 2016.915], "nice": false, "zero": false},
        "axis": {"title": null, "values": [2002, 2004, 2006, 2008, 2010, 2012, 2014, 2016], "format": "d", "grid": false,
                 "domainColor": "#ccd6eb", "tickColor": "#ccd6eb", "tickSize": 10,
                 "labelFont": "Open Sans", "labelFontSize": 12.5, "labelColor": "#666666", "labelPadding": -1}},
  "y": {"field": "share", "type": "quantitative",
        "scale": {"domain": [0, 30], "nice": false},
        "axis": {"title": null, "values": [5, 10, 15, 20, 25, 30], "labels": false, "ticks": false, "domain": false,
                 "grid": true, "gridColor": "#e6e6e6"}},
  "color": {"field": "lang", "type": "nominal",
            "scale": {"domain": ["Java", "C", "C++", "C#", "Python", "JavaScript", "PHP", "Visual Basic .NET", "Perl", "Objective-C"],
                      "range": ["#7cb5ec", "#434348", "#90ed7d", "#f7a35c", "#8085e9", "#f15c80", "#e4d354", "#2b908f", "#f45b5b", "#91e8e1"]},
            "legend": {"title": null, "orient": "none", "legendX": 720, "legendY": 64, "padding": 0,
                       "symbolType": "stroke", "symbolStrokeWidth": 3.5, "symbolSize": 225,
                       "labelFont": "Liberation Sans", "labelFontWeight": "bold", "labelFontSize": 12,
                       "labelColor": "#333333", "rowPadding": 1, "labelOffset": 6}}
}
}
